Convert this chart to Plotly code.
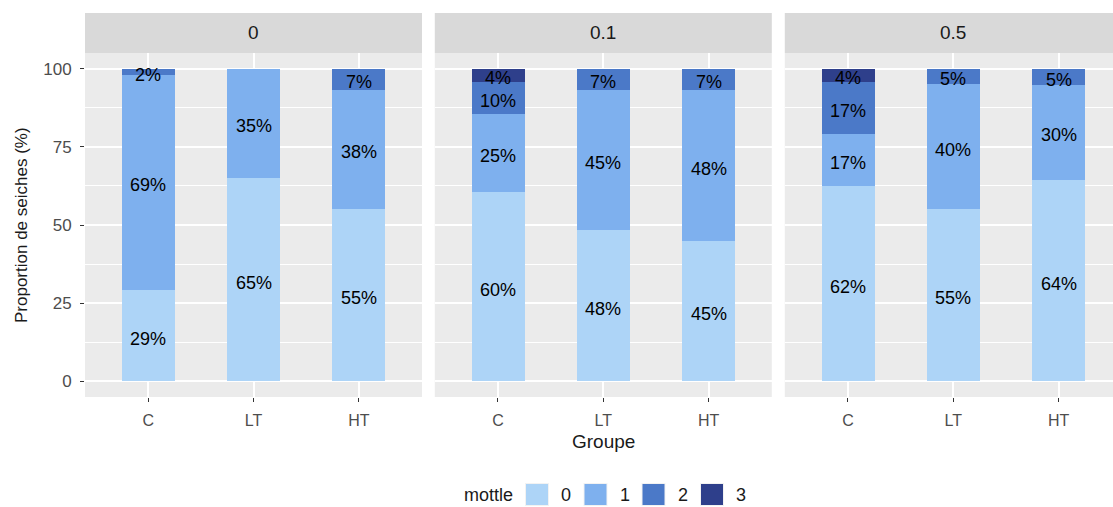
import plotly.graph_objects as go

# ---------------- data ----------------
facets = ["0", "0.1", "0.5"]
groups = ["C", "LT", "HT"]
mottle_levels = ["0", "1", "2", "3"]

# percentage of cuttlefish per mottle level, per facet, in group order C, LT, HT
mottle_0 = {"0": [29.3, 65.0, 55.2], "0.1": [60.4, 48.3, 44.8], "0.5": [62.5, 55.0, 64.4]}
mottle_1 = {"0": [68.7, 35.0, 37.9], "0.1": [25.0, 44.8, 48.3], "0.5": [16.7, 40.0, 30.4]}
mottle_2 = {"0": [2.0, 0.0, 6.9], "0.1": [10.4, 6.9, 6.9], "0.5": [16.6, 5.0, 5.2]}
mottle_3 = {"0": [0.0, 0.0, 0.0], "0.1": [4.2, 0.0, 0.0], "0.5": [4.2, 0.0, 0.0]}

y_ticks = [0, 25, 50, 75, 100]

colors = ["#ADD4F7", "#7EB0EE", "#4B79C8", "#2E3F8B"]
series = [mottle_0, mottle_1, mottle_2, mottle_3]

# ---------------- layout geometry ----------------
W, H = 1113, 507
ML, MR, MT, MB = 85, 0, 13, 110
PW = W - ML - MR
PH = H - MT - MB
unit = 337 / 3.2
panel_left = [85, 434.8, 784.8]
x_domains = []
x_ranges = []
for pl in panel_left:
    pr = min(pl + 337, W)
    x_domains.append([(pl - ML) / PW, (pr - ML) / PW])
    x_ranges.append([-0.6, -0.6 + (pr - pl) / unit])
strip_bottom = (397.3 - 53.3) / PH
y_dom = [0, strip_bottom]

FONT = "Liberation Sans, Arial, sans-serif"


def px_x(p):
    return (p - ML) / PW


def px_y(p):
    return (H - MB - p) / PH


fig = go.Figure()
annotations = []

for fi, f in enumerate(facets):
    xa = "x" if fi == 0 else f"x{fi+1}"
    ya = "y" if fi == 0 else f"y{fi+1}"
    for li, (lvl, s) in enumerate(zip(mottle_levels, series)):
        fig.add_trace(go.Bar(
            x=groups, y=s[f], name=lvl, legendgroup=lvl,
            showlegend=False, marker=dict(color=colors[li], line=dict(width=0)),
            width=0.5, xaxis=xa, yaxis=ya, hoverinfo="skip",
        ))
    # labels at middle of each stacked segment
    for gi, g in enumerate(groups):
        base = 0.0
        for s in series:
            v = s[f][gi]
            if v > 0:
                annotations.append(dict(
                    x=g, y=base + v / 2, xref=xa, yref=ya, text=f"{round(v)}%",
                    showarrow=False, xanchor="center", yanchor="middle", yshift=-3,
                    font=dict(family=FONT, size=18, color="black"),
                ))
            base += v

shapes = []
for fi in range(3):
    shapes.append(dict(
        type="rect", xref="paper", yref="paper",
        x0=x_domains[fi][0], x1=x_domains[fi][1], y0=strip_bottom, y1=1,
        fillcolor="#D9D9D9", line=dict(width=0), layer="below",
    ))
    annotations.append(dict(
        xref="paper", yref="paper",
        x=px_x(panel_left[fi] + 337 / 2),
        y=(strip_bottom + 1) / 2, text=facets[fi], showarrow=False,
        xanchor="center", yanchor="middle",
        font=dict(family=FONT, size=19, color="#1A1A1A"),
    ))

# axis titles
annotations.append(dict(
    xref="paper", yref="paper", x=px_x(603.5), y=px_y(441),
    text="Groupe", showarrow=False, xanchor="center", yanchor="middle",
    font=dict(family=FONT, size=19, color="#1A1A1A"),
))
annotations.append(dict(
    xref="paper", yref="paper", x=px_x(22), y=px_y(225),
    text="Proportion de seiches (%)", showarrow=False, textangle=-90,
    xanchor="center", yanchor="middle",
    font=dict(family=FONT, size=17, color="#1A1A1A"),
))

# legend (ggplot style, bottom): title + keys
leg_y = 494.5
annotations.append(dict(
    xref="paper", yref="paper", x=px_x(462), y=px_y(leg_y),
    text="mottle", showarrow=False, xanchor="left", yanchor="middle",
    font=dict(family=FONT, size=18, color="#1A1A1A"),
))
key_left = [525, 583.5, 641.5, 700]
for li, lvl in enumerate(mottle_levels):
    k0 = key_left[li]
    shapes.append(dict(
        type="rect", xref="paper", yref="paper",
        x0=px_x(k0), x1=px_x(k0 + 24), y0=px_y(leg_y + 11.5), y1=px_y(leg_y - 11.5),
        fillcolor="#F2F2F2", line=dict(width=0),
    ))
    shapes.append(dict(
        type="rect", xref="paper", yref="paper",
        x0=px_x(k0 + 1), x1=px_x(k0 + 23), y0=px_y(leg_y + 10.5), y1=px_y(leg_y - 10.5),
        fillcolor=colors[li], line=dict(width=0),
    ))
    annotations.append(dict(
        xref="paper", yref="paper", x=px_x(k0 + 34), y=px_y(leg_y),
        text=lvl, showarrow=False, xanchor="left", yanchor="middle",
        font=dict(family=FONT, size=18, color="#1A1A1A"),
    ))

layout = dict(
    width=W, height=H,
    margin=dict(l=ML, r=MR, t=MT, b=MB, autoexpand=False),
    paper_bgcolor="white", plot_bgcolor="#EBEBEB",
    barmode="stack", bargap=0, showlegend=False,
    font=dict(family=FONT, color="#1A1A1A"),
    shapes=shapes, annotations=annotations,
)

for fi in range(3):
    xk = "xaxis" if fi == 0 else f"xaxis{fi+1}"
    yk = "yaxis" if fi == 0 else f"yaxis{fi+1}"
    ya = "y" if fi == 0 else f"y{fi+1}"
    xa = "x" if fi == 0 else f"x{fi+1}"
    layout[xk] = dict(
        domain=x_domains[fi], range=x_ranges[fi], type="category",
        categoryorder="array", categoryarray=groups,
        anchor=ya, showgrid=True, gridcolor="white", gridwidth=1.5,
        zeroline=False, showline=False,
        ticks="outside", ticklen=4, tickwidth=1.3, tickcolor="#333333",
        tickfont=dict(family=FONT, size=16, color="#4D4D4D"),
        ticklabelstandoff=5, fixedrange=True,
    )
    layout[yk] = dict(
        domain=y_dom, range=[-5, 105], anchor=xa,
        tickmode="array", tickvals=y_ticks, ticktext=[str(t) for t in y_ticks],
        showgrid=True, gridcolor="white", gridwidth=1.5, zeroline=False, showline=False,
        minor=dict(tickmode="array", tickvals=[12.5, 37.5, 62.5, 87.5],
                   showgrid=True, gridcolor="white", gridwidth=0.8, ticks=""),
        ticks="outside" if fi == 0 else "", ticklen=4, tickwidth=1.3, tickcolor="#333333",
        showticklabels=(fi == 0),
        tickfont=dict(family=FONT, size=17, color="#4D4D4D"),
        ticklabelstandoff=5, fixedrange=True,
    )

fig.update_layout(**layout)
fig.write_html(
    "out.html",
    config={"displayModeBar": False},
    post_script="document.body.style.margin='0';document.body.style.padding='0';",
)
